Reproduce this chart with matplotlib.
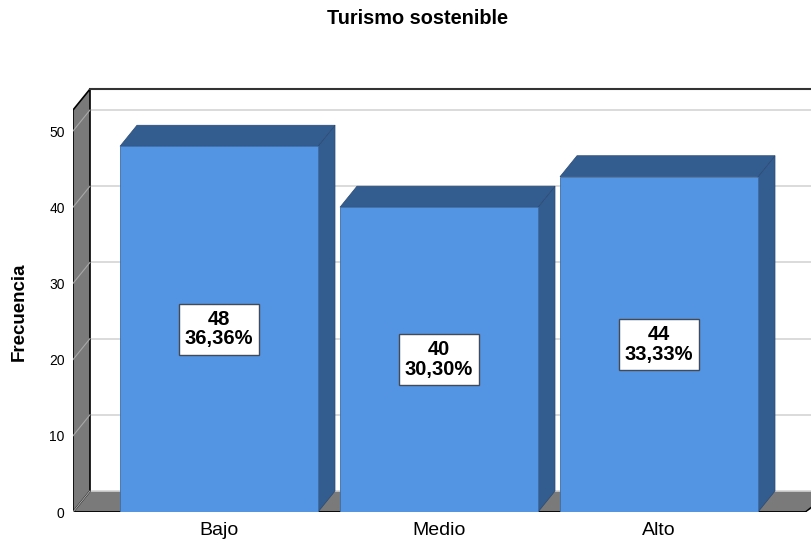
import matplotlib.pyplot as plt
from matplotlib.patches import Polygon

plt.rcParams['font.family'] = ['Liberation Sans', 'DejaVu Sans']

categorias = ['Bajo', 'Medio', 'Alto']
frecuencias = [48, 40, 44]
porcentajes = ['36,36%', '30,30%', '33,33%']
yticks = [0, 10, 20, 30, 40, 50]

front_col = '#5495e3'
side_col = '#345d8f'
wall_col = '#7a7a7a'
grid_col = '#d4d4d4'

W, H = 812, 547
fig = plt.figure(figsize=(W / 100, H / 100), dpi=100)
# axes spans pixel x 73..812, y 80..512
ax = fig.add_axes([73 / W, (H - 512) / H, (W - 73) / W, (512 - 80) / H])

px_per_cat = 220.0
px_per_unit = 7.62
x0 = -(219 - 73) / px_per_cat
x1 = x0 + (W - 73) / px_per_cat
ax.set_xlim(x0, x1)
ax.set_ylim(0, (512 - 80) / px_per_unit)

DX = 17 / px_per_cat     # depth offset (x)
DY = 21 / px_per_unit    # depth offset (y)
top = 52.75              # top of the walls

# floor
floor = Polygon([(x0, 0), (x0 + DX, DY), (x1 + 2 * DX, DY), (x1 - 0.03, 0)],
                closed=True, facecolor=wall_col, edgecolor='none', zorder=1)
ax.add_patch(floor)
ax.plot([x0, x1 - 0.03], [0, 0], color='black', lw=1.3, zorder=2)
ax.plot([x1 - 0.03, x1 + DX], [0, DY * 0.9], color='black', lw=1, zorder=2)

# left wall
wall = Polygon([(x0, 0), (x0, top), (x0 + DX, top + DY), (x0 + DX, DY)],
               closed=True, facecolor=wall_col, edgecolor='black', lw=1.2, zorder=2)
ax.add_patch(wall)
ax.plot([x0 + DX, x1 + DX], [top + DY, top + DY], color='#333333', lw=1.5, zorder=2)

# grid lines
for v in yticks:
    ax.plot([x0 + DX, x1 + DX], [v + DY, v + DY], color=grid_col, lw=1.2, zorder=1.5)
    ax.plot([x0, x0 + DX], [v, v + DY], color='#a8a8a8', lw=0.8, zorder=2.5)

# bars
xs = list(range(len(categorias)))
ax.bar(xs, frecuencias, width=0.9, color=front_col, edgecolor='#3d6da8', lw=0.6, zorder=4)
for x, v in zip(xs, frecuencias):
    l, r = x - 0.45, x + 0.45
    side = Polygon([(r, 0), (r, v), (r + DX, v + DY), (r + DX, DY)],
                   closed=True, facecolor=side_col, edgecolor='#2a4a73', lw=0.5, zorder=3)
    tp = Polygon([(l, v), (r, v), (r + DX, v + DY), (l + DX, v + DY)],
                 closed=True, facecolor=side_col, edgecolor='#2a4a73', lw=0.5, zorder=3)
    ax.add_patch(side)
    ax.add_patch(tp)

for x, v, p in zip(xs, frecuencias, porcentajes):
    ax.text(x, v / 2, f'{v}\n{p}', ha='center', va='center', fontsize=14.5,
            fontweight='bold', linespacing=1.05, zorder=6,
            bbox=dict(boxstyle='square,pad=0.3', facecolor='white',
                      edgecolor='#444a55', lw=1.0))

for s in ax.spines.values():
    s.set_visible(False)
ax.set_yticks(yticks)
ax.set_yticklabels([str(t) for t in yticks], fontsize=10)
ax.set_xticks(xs)
ax.set_xticklabels(categorias, fontsize=14)
ax.tick_params(axis='y', length=0, pad=6)
ax.tick_params(axis='x', length=0, pad=7)

fig.text(418 / W, 1 - 19 / H, 'Turismo sostenible', ha='center', va='center',
         fontsize=14.3, fontweight='bold')
fig.text(19 / W, 1 - 312 / H, 'Frecuencia', ha='center', va='center',
         rotation=90, fontsize=13.5, fontweight='bold')

fig.savefig('out.png', dpi=100)
